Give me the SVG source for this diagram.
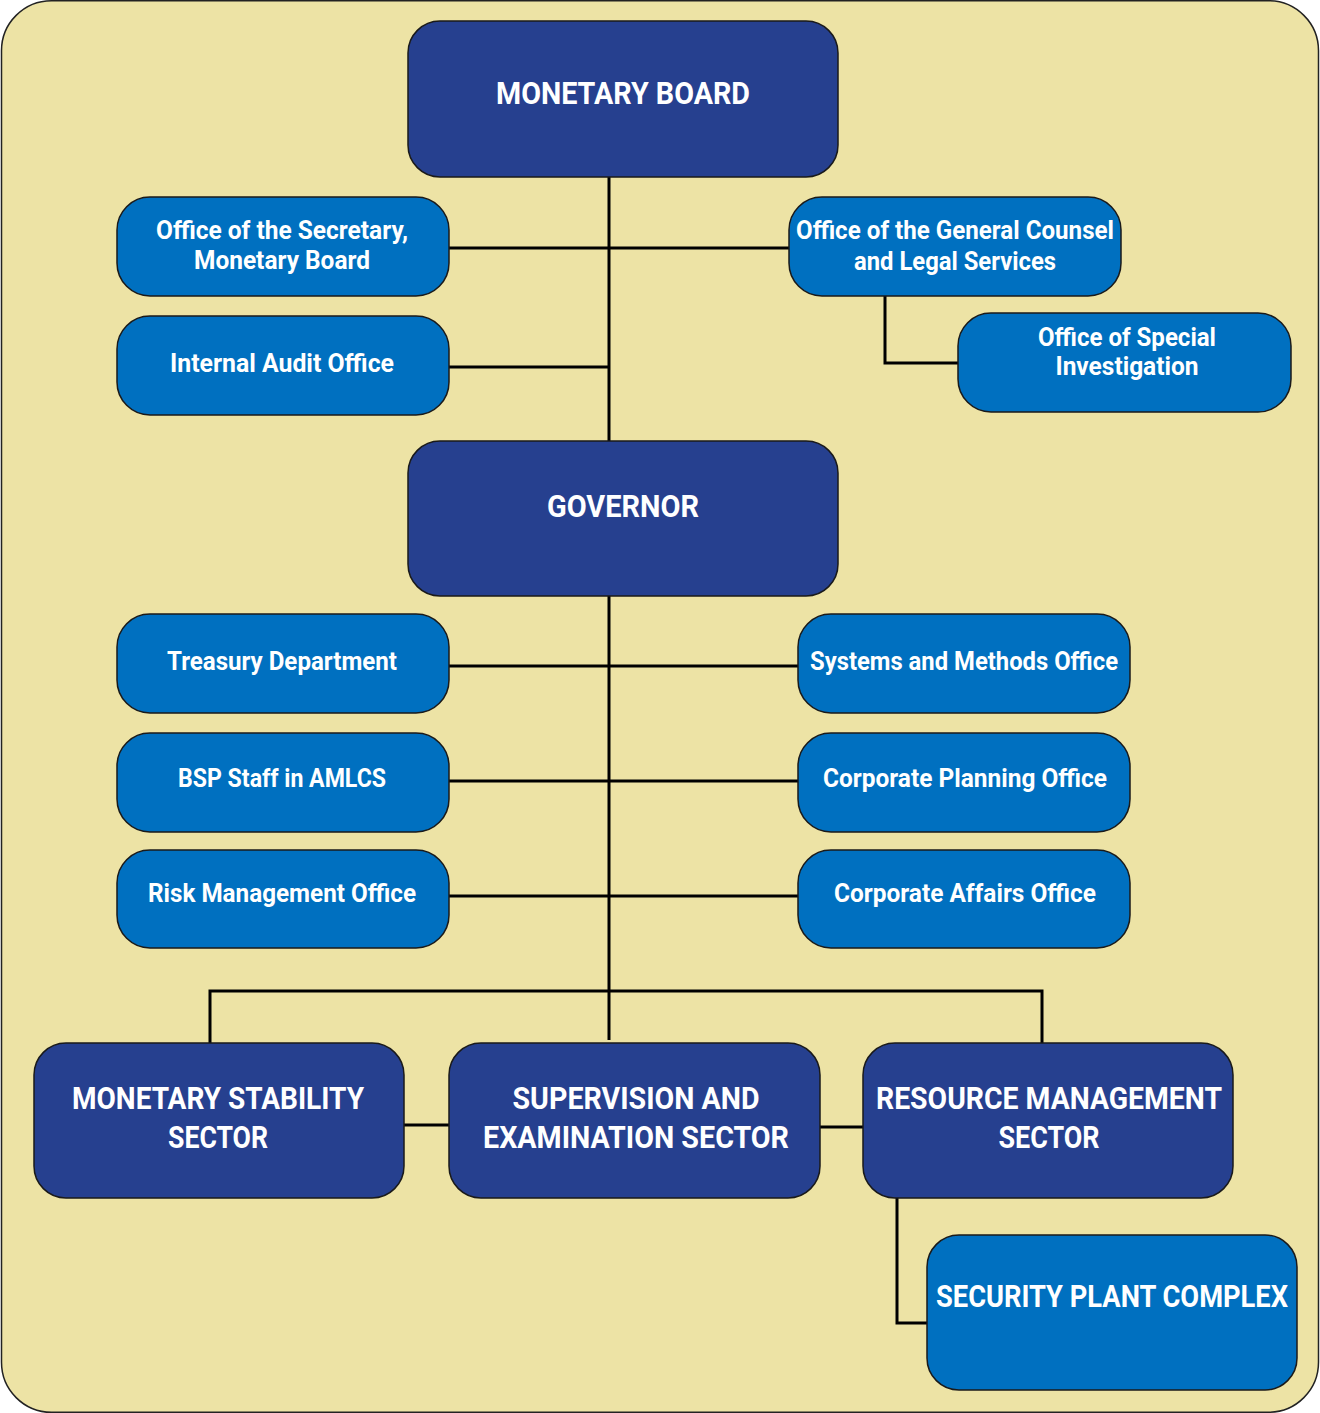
<svg xmlns="http://www.w3.org/2000/svg" width="1320" height="1413" viewBox="0 0 1320 1413">
<style>
.bg{fill:#EDE3A5;stroke:#222;stroke-width:1.5}
.dk{fill:#26408F;stroke:#1a1a1a;stroke-width:1.5}
.lt{fill:#0070C0;stroke:#1a1a1a;stroke-width:1.5}
.t{font-family:Roboto,"Liberation Sans",sans-serif;font-weight:bold;fill:#fff;text-anchor:middle}
.s{font-size:26px}
.b{font-size:31px}
.c{fill:none;stroke:#000;stroke-width:3}
</style>
<rect class="bg" x="1.5" y="0.75" width="1317" height="1411.5" rx="50"/>
<g id="connectors">
<path class="c" d="M609,177V441"/>
<path class="c" d="M449,248H789"/>
<path class="c" d="M449,367H609"/>
<path class="c" d="M885,296V363H958"/>
<path class="c" d="M609,596V1040"/>
<path class="c" d="M449,666H798"/>
<path class="c" d="M449,781H798"/>
<path class="c" d="M449,896H798"/>
<path class="c" d="M210,1043V991H1042V1043"/>
<path class="c" d="M404,1125H449"/>
<path class="c" d="M820,1127H863"/>
<path class="c" d="M897,1198V1323H927"/>
</g>
<g id="monetary-board">
<rect class="dk" x="408" y="21" width="430" height="156" rx="32"/>
<text class="t b" x="623" y="104" textLength="254" lengthAdjust="spacingAndGlyphs">MONETARY BOARD</text>
</g>
<g id="secretary">
<rect class="lt" x="117" y="197" width="332" height="99" rx="33"/>
<text class="t s" x="282" y="239" textLength="252" lengthAdjust="spacingAndGlyphs">Office of the Secretary,</text>
<text class="t s" x="282" y="269" textLength="176" lengthAdjust="spacingAndGlyphs">Monetary Board</text>
</g>
<g id="internal-audit">
<rect class="lt" x="117" y="316" width="332" height="99" rx="33"/>
<text class="t s" x="282" y="372" textLength="224" lengthAdjust="spacingAndGlyphs">Internal Audit Office</text>
</g>
<g id="general-counsel">
<rect class="lt" x="789" y="197" width="332" height="99" rx="33"/>
<text class="t s" x="955" y="239" textLength="318" lengthAdjust="spacingAndGlyphs">Office of the General Counsel</text>
<text class="t s" x="955" y="270" textLength="202" lengthAdjust="spacingAndGlyphs">and Legal Services</text>
</g>
<g id="special-investigation">
<rect class="lt" x="958" y="313" width="333" height="99" rx="33"/>
<text class="t s" x="1127" y="346" textLength="178" lengthAdjust="spacingAndGlyphs">Office of Special</text>
<text class="t s" x="1127" y="375" textLength="143" lengthAdjust="spacingAndGlyphs">Investigation</text>
</g>
<g id="governor">
<rect class="dk" x="408" y="441" width="430" height="155" rx="32"/>
<text class="t b" x="623" y="517" textLength="152" lengthAdjust="spacingAndGlyphs">GOVERNOR</text>
</g>
<g id="treasury">
<rect class="lt" x="117" y="614" width="332" height="99" rx="33"/>
<text class="t s" x="282" y="670" textLength="230" lengthAdjust="spacingAndGlyphs">Treasury Department</text>
</g>
<g id="systems-methods">
<rect class="lt" x="798" y="614" width="332" height="99" rx="33"/>
<text class="t s" x="964" y="670" textLength="308" lengthAdjust="spacingAndGlyphs">Systems and Methods Office</text>
</g>
<g id="bsp-amlcs">
<rect class="lt" x="117" y="733" width="332" height="99" rx="33"/>
<text class="t s" x="282" y="787" textLength="208" lengthAdjust="spacingAndGlyphs">BSP Staff in AMLCS</text>
</g>
<g id="corporate-planning">
<rect class="lt" x="798" y="733" width="332" height="99" rx="33"/>
<text class="t s" x="965" y="787" textLength="284" lengthAdjust="spacingAndGlyphs">Corporate Planning Office</text>
</g>
<g id="risk-management">
<rect class="lt" x="117" y="850" width="332" height="98" rx="33"/>
<text class="t s" x="282" y="902" textLength="268" lengthAdjust="spacingAndGlyphs">Risk Management Office</text>
</g>
<g id="corporate-affairs">
<rect class="lt" x="798" y="850" width="332" height="98" rx="33"/>
<text class="t s" x="965" y="902" textLength="262" lengthAdjust="spacingAndGlyphs">Corporate Affairs Office</text>
</g>
<g id="monetary-stability">
<rect class="dk" x="34" y="1043" width="370" height="155" rx="32"/>
<text class="t b" x="218" y="1109" textLength="292" lengthAdjust="spacingAndGlyphs">MONETARY STABILITY</text>
<text class="t b" x="218" y="1148" textLength="100" lengthAdjust="spacingAndGlyphs">SECTOR</text>
</g>
<g id="supervision-examination">
<rect class="dk" x="449" y="1043" width="371" height="155" rx="32"/>
<text class="t b" x="636" y="1109" textLength="247" lengthAdjust="spacingAndGlyphs">SUPERVISION AND</text>
<text class="t b" x="636" y="1148" textLength="306" lengthAdjust="spacingAndGlyphs">EXAMINATION SECTOR</text>
</g>
<g id="resource-management">
<rect class="dk" x="863" y="1043" width="370" height="155" rx="32"/>
<text class="t b" x="1049" y="1109" textLength="346" lengthAdjust="spacingAndGlyphs">RESOURCE MANAGEMENT</text>
<text class="t b" x="1049" y="1148" textLength="101" lengthAdjust="spacingAndGlyphs">SECTOR</text>
</g>
<g id="security-plant">
<rect class="lt" x="927" y="1235" width="370" height="155" rx="32"/>
<text class="t b" x="1112" y="1307" textLength="352" lengthAdjust="spacingAndGlyphs">SECURITY PLANT COMPLEX</text>
</g>
</svg>
